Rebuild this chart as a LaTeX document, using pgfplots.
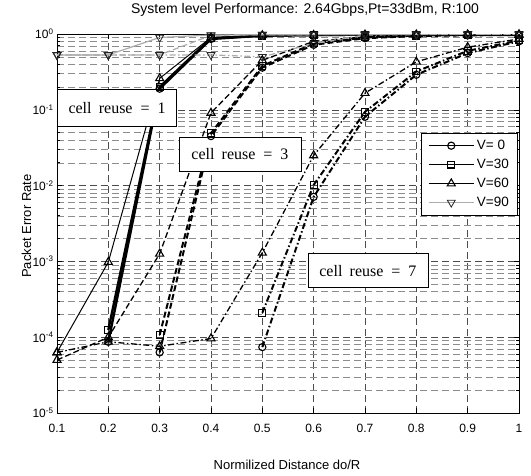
\documentclass[border=0pt]{standalone}
\usepackage{fontspec}
\setmainfont{Liberation Sans}
\newfontfamily\tnr{Liberation Serif}
\usepackage{pgfplots}
\pgfplotsset{compat=1.18}
\pgfplotsset{
  rA/.style={solid},
  rB/.style={dash pattern=on 6pt off 3pt},
  rC/.style={dash pattern=on 6pt off 2.5pt on 1.5pt off 2.5pt},
  vO/.style={black, mark=o, mark size=3.6pt, mark options={solid, line width=1.1pt}},
  vS/.style={black, mark=square, mark size=3.4pt, mark options={solid, line width=1.1pt}},
  vT/.style={black, mark=triangle, mark size=4.6pt, mark options={solid, line width=1.1pt}},
  vN/.style={gray!65, mark=triangle, mark size=4.6pt, mark options={solid, rotate=180, fill=gray!45, draw=gray!30!black, line width=0.8pt}},
}
\begin{document}
\begin{tikzpicture}
\path[use as bounding box] (0,0) rectangle (531pt,475pt);
\begin{axis}[
  at={(57pt,62pt)}, anchor=south west,
  scale only axis, width=462pt, height=379pt,
  xmin=0.1, xmax=1, ymin=1e-5, ymax=1, ymode=log,
  xtick={0.1,0.2,0.3,0.4,0.5,0.6,0.7,0.8,0.9,1},
  xticklabels={0.1,0.2,0.3,0.4,0.5,0.6,0.7,0.8,0.9,1},
  ytick={1e-5,1e-4,1e-3,1e-2,1e-1,1},
  yticklabels={10\textsuperscript{-5},10\textsuperscript{-4},10\textsuperscript{-3},10\textsuperscript{-2},10\textsuperscript{-1},10\textsuperscript{0}},
  minor ytick={2e-5,3e-5,4e-5,5e-5,6e-5,7e-5,8e-5,9e-5,2e-4,3e-4,4e-4,5e-4,6e-4,7e-4,8e-4,9e-4,2e-3,3e-3,4e-3,5e-3,6e-3,7e-3,8e-3,9e-3,2e-2,3e-2,4e-2,5e-2,6e-2,7e-2,8e-2,9e-2,0.2,0.3,0.4,0.5,0.6,0.7,0.8,0.9},
  grid=both,
  major grid style={black!70, dash pattern=on 7pt off 4pt, line width=0.5pt},
  minor grid style={black!45, dash pattern=on 7pt off 4pt, line width=0.45pt},
  tick align=inside, major tick length=5pt, minor tick length=3pt,
  axis line style={black, line width=0.8pt},
  tick style={black, line width=0.6pt},
  ticklabel style={font=\fontsize{12}{14}\selectfont},
  xticklabel style={yshift=-8pt},
  title={System level Performance: 2.64Gbps,Pt=33dBm, R:100},
  title style={at={(0.537,1.037)}, anchor=base, font=\fontsize{14}{16}\selectfont, inner sep=0pt},
  xlabel={Normilized Distance do/R},
  xlabel style={at={(axis description cs:0.498,-0.150)}, anchor=base, font=\fontsize{13}{15}\selectfont, inner sep=0pt},
  ylabel={Packet Error Rate},
  ylabel style={at={(axis description cs:-0.066,0.493)}, anchor=center, font=\fontsize{13}{15}\selectfont, inner sep=0pt},
  legend style={at={(rel axis cs:0.996,0.739)}, anchor=north east, draw=black, fill=white, line width=0.6pt, font=\fontsize{13.5}{15}\selectfont, row sep=4pt, inner xsep=6pt, inner ysep=5pt},
  legend cell align=left,
  legend image code/.code={\draw[mark repeat=2,mark phase=2] plot coordinates {(0cm,0cm) (0.8cm,0cm) (1.6cm,0cm)};},
]
% ---- cell reuse = 1 (solid)
\addplot[vO, rA, line width=2.4pt, forget plot] coordinates {(0.2,8.7e-5)(0.3,0.19)(0.4,0.86)(0.5,0.95)(0.6,0.97)(0.7,0.98)(0.8,0.98)(0.9,0.98)(1,0.98)};
\addplot[vS, rA, line width=2.4pt, forget plot] coordinates {(0.2,1.25e-4)(0.3,0.2)(0.4,0.88)(0.5,0.95)(0.6,0.97)(0.7,0.98)(0.8,0.98)(0.9,0.98)(1,0.98)};
\addplot[vT, rA, line width=1pt, forget plot] coordinates {(0.1,6.3e-5)(0.2,9.8e-4)(0.3,0.26)(0.4,0.9)(0.5,0.96)(0.6,0.97)(0.7,0.98)(0.8,0.98)(0.9,0.98)(1,0.98)};
\addplot[vN, rA, line width=1.2pt, forget plot] coordinates {(0.1,0.53)(0.2,0.53)(0.3,0.9)(0.4,0.97)(0.5,0.98)(0.6,0.98)(0.7,0.99)(0.8,0.99)(0.9,0.99)(1,0.99)};
% ---- cell reuse = 3 (dashed)
\addplot[vO, rB, line width=2pt, forget plot] coordinates {(0.3,6.3e-5)(0.4,0.045)(0.5,0.36)(0.6,0.72)(0.7,0.88)(0.8,0.94)(0.9,0.96)(1,0.97)};
\addplot[vS, rB, line width=2pt, forget plot] coordinates {(0.3,1.07e-4)(0.4,0.049)(0.5,0.38)(0.6,0.75)(0.7,0.9)(0.8,0.95)(0.9,0.97)(1,0.97)};
\addplot[vT, rB, line width=1.3pt, forget plot] coordinates {(0.1,5e-5)(0.2,1e-4)(0.3,1.26e-3)(0.4,0.091)(0.5,0.45)(0.6,0.8)(0.7,0.92)(0.8,0.96)(0.9,0.97)(1,0.98)};
\addplot[vN, rB, line width=1.2pt, forget plot] coordinates {(0.1,0.53)(0.2,0.53)(0.3,0.53)(0.4,0.96)(0.5,0.98)(0.6,0.98)(0.7,0.99)(0.8,0.99)(0.9,0.99)(1,0.99)};
% ---- cell reuse = 7 (dash-dot)
\addplot[vO, rC, line width=2pt, forget plot] coordinates {(0.5,7.4e-5)(0.6,0.0071)(0.7,0.081)(0.8,0.29)(0.9,0.56)(1,0.8)};
\addplot[vS, rC, line width=2pt, forget plot] coordinates {(0.5,2.1e-4)(0.6,0.0102)(0.7,0.094)(0.8,0.32)(0.9,0.6)(1,0.82)};
\addplot[vT, rC, line width=1.3pt, forget plot] coordinates {(0.1,6.3e-5)(0.2,8.7e-5)(0.3,7.6e-5)(0.4,9.6e-5)(0.5,1.3e-3)(0.6,0.025)(0.7,0.166)(0.8,0.43)(0.9,0.67)(1,0.86)};
\addplot[vN, rC, line width=1.2pt, forget plot] coordinates {(0.1,0.53)(0.2,0.53)(0.3,0.53)(0.4,0.53)(0.5,0.5)(0.6,0.75)(0.7,0.97)(0.8,0.98)(0.9,0.99)(1,0.99)};
% ---- legend
\addlegendimage{vO, line width=1.2pt}
\addlegendentry{V= 0}
\addlegendimage{vS, line width=1.4pt}
\addlegendentry{V=30}
\addlegendimage{vT, line width=1.8pt}
\addlegendentry{V=60}
\addlegendimage{vN, line width=1.2pt}
\addlegendentry{V=90}
% ---- annotation boxes
\node[draw=black, line width=0.8pt, fill=white, minimum width=119pt, minimum height=37pt, inner sep=0pt, font=\tnr\fontsize{16}{18}\selectfont] at (rel axis cs:0.130,0.805) {cell\hspace{0.45em}reuse\hspace{0.5em}=\hspace{0.5em}1};
\node[draw=black, line width=0.8pt, fill=white, minimum width=122pt, minimum height=34pt, inner sep=0pt, font=\tnr\fontsize{16}{18}\selectfont] at (rel axis cs:0.396,0.683) {cell\hspace{0.45em}reuse\hspace{0.5em}=\hspace{0.5em}3};
\node[draw=black, line width=0.8pt, fill=white, minimum width=120pt, minimum height=34pt, inner sep=0pt, font=\tnr\fontsize{16}{18}\selectfont] at (rel axis cs:0.673,0.375) {cell\hspace{0.45em}reuse\hspace{0.5em}=\hspace{0.5em}7};
\end{axis}
\end{tikzpicture}
\end{document}
